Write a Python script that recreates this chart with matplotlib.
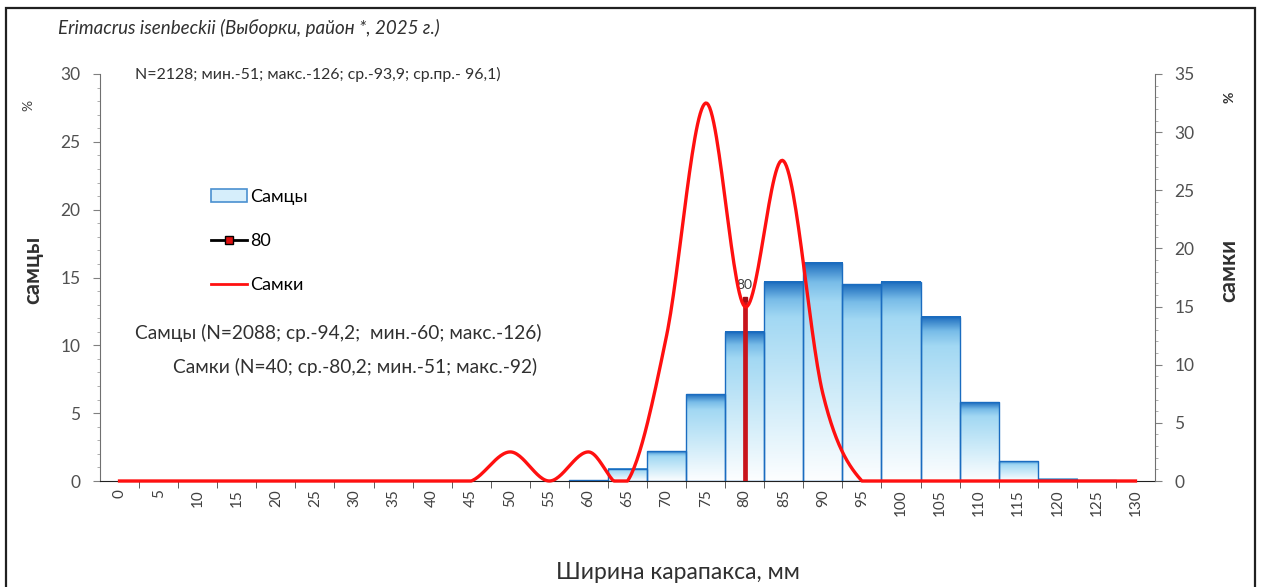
import numpy as np
import matplotlib
matplotlib.use("Agg")
import matplotlib.pyplot as plt
import matplotlib.patches as patches
from matplotlib.lines import Line2D
from matplotlib.colors import LinearSegmentedColormap
from matplotlib.ticker import MultipleLocator

plt.rcParams['font.family'] = ['Lato', 'DejaVu Sans']

# categories: carapace width classes, mm
categories = list(range(0, 131, 5))
# males, % (left axis)
males_pct = [0, 0, 0, 0, 0, 0, 0, 0, 0, 0, 0, 0,
             0.05, 0.9, 2.2, 6.4, 11.0, 14.7, 16.1, 14.5, 14.7, 12.1, 5.8, 1.45, 0.15, 0.07, 0]
# females, % (right axis)
females_pct = [0, 0, 0, 0, 0, 0, 0, 0, 0,
               0, 2.5, 0, 2.5, 0, 12.5, 32.5, 15.0, 27.5, 7.5, 0, 0, 0, 0, 0, 0, 0, 0]
# commercial size mark
limit_x = 80
limit_h = 13.4

title = "Erimacrus isenbeckii (Выборки, район *, 2025 г.)"
total_txt = "N=2128; мин.-51; макс.-126; ср.-93,9; ср.пр.- 96,1)"
males_txt = "Самцы (N=2088; ср.-94,2;  мин.-60; макс.-126)"
females_txt = "Самки (N=40; ср.-80,2; мин.-51; макс.-92)"

W, H = 1261, 587
fig = plt.figure(figsize=(W / 100, H / 100), dpi=100)
ax = fig.add_axes([100 / W, 1 - 481 / H, (1155 - 100) / W, (481 - 74) / H])
ax2 = ax.twinx()

idx = np.arange(len(categories))
grad_cmap = LinearSegmentedColormap.from_list(
    "bar", [(0.0, "#fdfeff"), (0.4, "#d0ecf9"), (0.82, "#a2d8f3"),
            (0.91, "#78bce8"), (1.0, "#1b6bbd")])
grad = np.linspace(0, 1, 256).reshape(-1, 1)

# bars with vertical gradient
for i, v in zip(idx, males_pct):
    if v <= 0:
        continue
    ax.imshow(grad, extent=[i - 0.5, i + 0.5, 0, v], origin='lower',
              aspect='auto', cmap=grad_cmap, zorder=1, interpolation='bicubic')
    ax.add_patch(patches.Rectangle((i - 0.5, 0), 1, v, fill=False,
                                   edgecolor="#1a6cc0", linewidth=1.0, zorder=2))

# size mark line
li = categories.index(limit_x)
ax.plot([li, li], [0, limit_h], color="#c8141c", linewidth=3.4, zorder=3,
        solid_capstyle='butt')
ax.plot([li], [limit_h], marker='s', markersize=3, color="#a00e16", zorder=4)
ax.text(li, limit_h + 0.6, "80", ha='center', va='bottom', fontsize=10,
        color="#404040", zorder=5)


# smoothed female curve (Catmull-Rom, like spreadsheet smoothing)
def smooth(xs, ys, n=30):
    xs = np.asarray(xs, float)
    ys = np.asarray(ys, float)
    px = np.concatenate([[xs[0]], xs, [xs[-1]]])
    py = np.concatenate([[ys[0]], ys, [ys[-1]]])
    ox, oy = [], []
    t = np.linspace(0, 1, n)
    for k in range(1, len(px) - 2):
        for arr, out in ((px, ox), (py, oy)):
            p0, p1, p2, p3 = arr[k - 1], arr[k], arr[k + 1], arr[k + 2]
            out.extend(0.5 * ((2 * p1) + (-p0 + p2) * t +
                              (2 * p0 - 5 * p1 + 4 * p2 - p3) * t ** 2 +
                              (-p0 + 3 * p1 - 3 * p2 + p3) * t ** 3))
    return np.array(ox), np.array(oy)


sx, sy = smooth(idx, females_pct)
ax2.plot(sx, np.clip(sy, 0, None), color="#ff1010", linewidth=2.4, zorder=5,
         clip_on=False)

# axes
ax.set_xlim(-0.5, len(categories) - 0.5)
ax.set_ylim(0, 30)
ax2.set_ylim(0, 35)
ax.set_xticks(idx)
ax.set_xticklabels([str(c) for c in categories], rotation=90, fontsize=11,
                   color="#404040")
ax.set_xticks(idx[:-1] + 0.5, minor=True)
ax.tick_params(axis='x', which='major', length=0, pad=6)
ax.tick_params(axis='x', which='minor', length=5, color="#404040")

ax.yaxis.set_major_locator(MultipleLocator(5))
ax.yaxis.set_minor_locator(MultipleLocator(1))
ax2.yaxis.set_major_locator(MultipleLocator(5))
ax2.yaxis.set_minor_locator(MultipleLocator(1))
for a in (ax, ax2):
    a.tick_params(axis='y', which='major', length=5, labelsize=12.5,
                  labelcolor="#505050", color="#808080", pad=9)
    a.tick_params(axis='y', which='minor', length=2.5, color="#a0a0a0")
    for s in a.spines.values():
        s.set_visible(False)
ax.spines['left'].set_visible(True)
ax.spines['left'].set_color("#707070")
ax.spines['bottom'].set_visible(True)
ax.spines['bottom'].set_color("#202020")
ax2.spines['right'].set_visible(True)
ax2.spines['right'].set_color("#707070")

ax.set_xlabel("Ширина карапакса, мм", fontsize=16.5, color="#303030")
ax.xaxis.set_label_coords(0.548, -0.2)

# texts
fig.text(58 / W, 1 - 28 / H, title, fontsize=13.5, style='italic',
         color="#303030", va='center')
fig.text(135 / W, 1 - 74 / H, total_txt, fontsize=11.4, color="#303030",
         va='center')
fig.text(135 / W, 1 - 333 / H, males_txt, fontsize=13.8, color="#303030",
         va='center')
fig.text(173 / W, 1 - 367 / H, females_txt, fontsize=13.8, color="#303030",
         va='center')
fig.text(33 / W, 1 - 270 / H, "самцы", rotation=90, fontsize=16,
         fontweight='bold', color="#303030", ha='center', va='center')
fig.text(28 / W, 1 - 105 / H, "%", rotation=90, fontsize=10,
         color="#404040", ha='center', va='center')
fig.text(1229 / W, 1 - 270 / H, "самки", rotation=90, fontsize=16,
         fontweight='bold', color="#303030", ha='center', va='center')
fig.text(1230 / W, 1 - 97 / H, "%", rotation=90, fontsize=10,
         fontweight='bold', color="#303030", ha='center', va='center')

# legend
handles = [
    patches.Patch(facecolor="#d6eefb", edgecolor="#4a90d0", linewidth=1.2),
    Line2D([0], [0], color="black", linewidth=2, marker='s', markersize=6,
           markerfacecolor="#e01010", markeredgecolor="black"),
    Line2D([0], [0], color="#ff1010", linewidth=2),
]
fig.legend(handles, ["Самцы", "80", "Самки"], loc='upper left',
           bbox_to_anchor=(211 / W, 1 - 189 / H), frameon=False, fontsize=13,
           labelspacing=1.55, handlelength=2.0, handletextpad=0.15,
           borderpad=0, borderaxespad=0)

# outer frame
fig.add_artist(patches.Rectangle((6 / W, -0.05), (1255 - 6) / W, 1.05 - 8 / H,
                                 transform=fig.transFigure, fill=False,
                                 edgecolor="#202020", linewidth=1.6))

fig.savefig("out.png", dpi=100)
